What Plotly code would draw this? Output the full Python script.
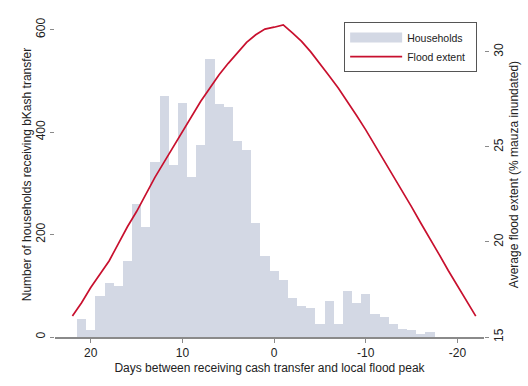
import plotly.graph_objects as go

# Histogram: days between receiving cash transfer and local flood peak
days = list(range(21, -18, -1))
households = [35, 13, 80, 106, 100, 148, 259, 215, 342, 470, 336, 457, 313, 374,
              543, 454, 450, 382, 366, 223, 158, 128, 112, 77, 61, 57, 26, 71, 26,
              89, 66, 84, 44, 39, 26, 15, 13, 6, 9]

# Flood extent line
flood_days = list(range(22, -23, -1))
flood_extent = [16.1, 16.8, 17.6, 18.3, 19.0, 19.9, 20.8, 21.6, 22.5, 23.4, 24.2,
                25.0, 25.8, 26.6, 27.4, 28.1, 28.8, 29.4, 29.95, 30.5, 30.9, 31.2,
                31.3, 31.42, 31.0, 30.55, 30.0, 29.4, 28.75, 28.1, 27.4, 26.65,
                25.9, 25.1, 24.3, 23.5, 22.7, 21.85, 21.0, 20.2, 19.35, 18.5,
                17.7, 16.9, 16.1]

x_ticks = [20, 10, 0, -10, -20]
y_ticks = [0, 200, 400, 600]
y2_ticks = [15, 20, 25, 30]

FONT = "Liberation Sans, Arial, sans-serif"
AXIS_GRAY = "#8a8a8a"
BAR_COLOR = "#d3d8e4"
LINE_COLOR = "#c8102e"
PAD = "\u00a0\u00a0"

fig = go.Figure()
fig.add_trace(go.Bar(
    x=days, y=households, name="Households",
    marker=dict(color=BAR_COLOR, line=dict(width=0)),
    width=1.0, showlegend=False,
))
# legend swatch for the bars (wide rectangle like the original)
fig.add_trace(go.Scatter(
    x=[None], y=[None], name="Households" + PAD, mode="lines",
    line=dict(color=BAR_COLOR, width=13), showlegend=True,
))
fig.add_trace(go.Scatter(
    x=flood_days, y=flood_extent, name="Flood extent" + PAD, mode="lines",
    line=dict(color=LINE_COLOR, width=1.7), yaxis="y2",
))

fig.update_layout(
    width=528, height=386,
    margin=dict(l=55, r=44, t=12, b=49, autoexpand=False),
    paper_bgcolor="white", plot_bgcolor="white",
    font=dict(family=FONT, size=12, color="#222222"),
    bargap=0,
    showlegend=True,
    legend=dict(
        x=0.674, y=0.969, xanchor="left", yanchor="top",
        bgcolor="white", bordercolor="#555555", borderwidth=1,
        font=dict(size=10.5, family=FONT, color="#222222"),
        itemwidth=52, tracegroupgap=2,
    ),
    xaxis=dict(
        range=[23.9, -22.9], tickvals=x_ticks, ticktext=[str(v) for v in x_ticks],
        showgrid=False, zeroline=False,
        showline=True, linecolor=AXIS_GRAY, linewidth=1.5,
        ticks="outside", ticklen=4, tickcolor=AXIS_GRAY,
        tickfont=dict(size=12),
        title=dict(text="Days between receiving cash transfer and local flood peak",
                   font=dict(size=12), standoff=4),
    ),
    yaxis=dict(
        range=[0, 634.5], tickvals=y_ticks, ticktext=[str(v) for v in y_ticks],
        showgrid=False, zeroline=False, showline=False,
        ticks="outside", ticklen=4, tickcolor=AXIS_GRAY, tickangle=-90,
        tickfont=dict(size=12),
        title=dict(text="Number of households receiving bKash transfer",
                   font=dict(size=12), standoff=0),
    ),
    yaxis2=dict(
        range=[15, 32.1], tickvals=y2_ticks, ticktext=[str(v) for v in y2_ticks],
        overlaying="y", side="right", anchor="x",
        showgrid=False, zeroline=False, showline=False,
        ticks="outside", ticklen=4, tickcolor=AXIS_GRAY, tickangle=-90,
        tickfont=dict(size=12),
        title=dict(text="Average flood extent (% mauza inundated)",
                   font=dict(size=12), standoff=4),
    ),
)

fig.write_html("out.html", config={"displayModeBar": False},
               post_script="document.body.style.margin='0';document.body.style.padding='0';")
